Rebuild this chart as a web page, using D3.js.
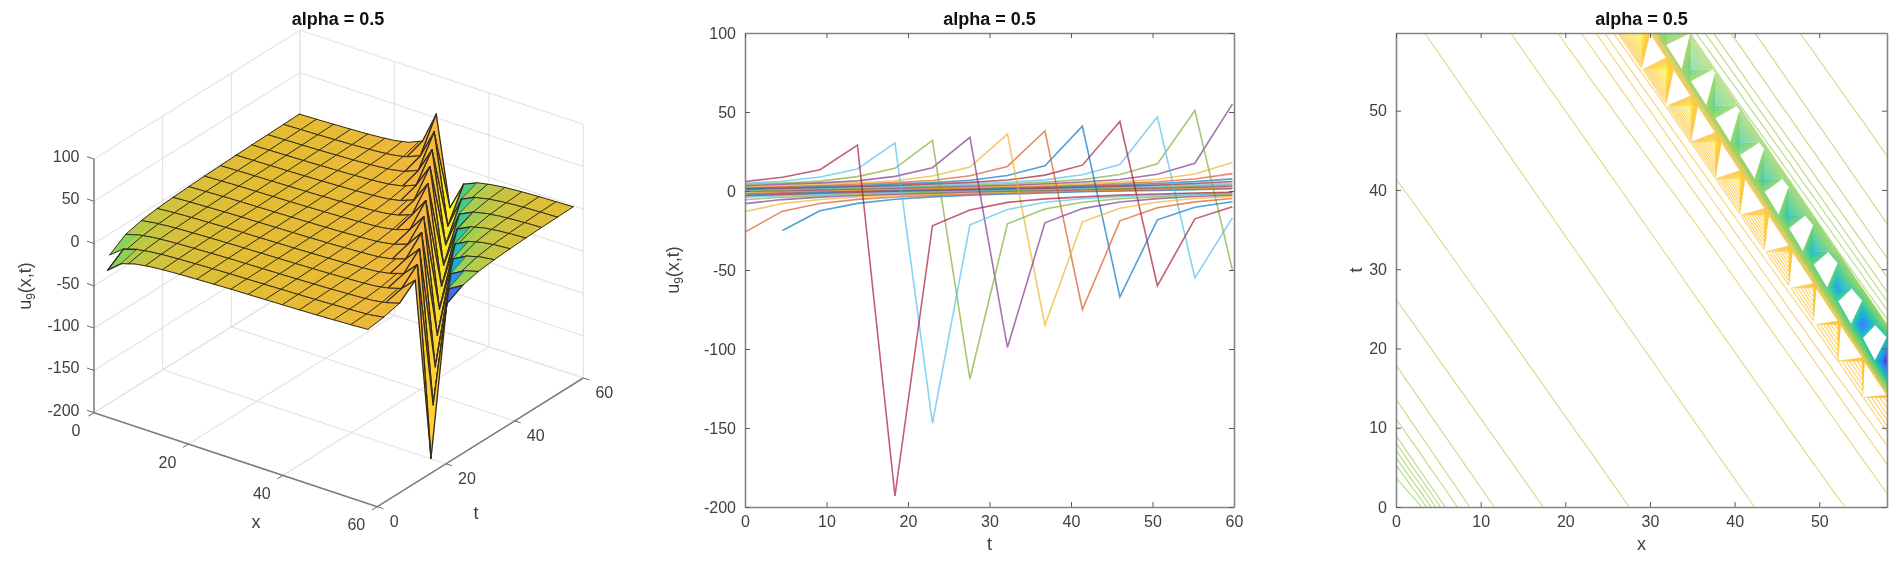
<!DOCTYPE html>
<html>
<head>
<meta charset="utf-8">
<script src="https://cdn.jsdelivr.net/npm/d3@7"></script>
<style>
  html, body { margin: 0; padding: 0; background: #fff; }
  svg { display: block; filter: blur(0.5px); }
  text { font-family: "Liberation Sans", Arial, sans-serif; fill: #404040; font-size: 16px; }
  .title { font-weight: bold; font-size: 18px; fill: #111; text-anchor: middle; }
  .label { font-size: 18px; text-anchor: middle; }
</style>
</head>
<body>
<script>
// Data
//= ================================
var titleText = "alpha = 0.5";
var xValues = [0, 2.9, 5.8, 8.7, 11.6, 14.5, 17.4, 20.3, 23.2, 26.1, 29, 31.9, 34.8, 37.7, 40.6, 43.5, 46.4, 49.3, 52.2, 55.1, 58];
var tValues = [0, 4.6, 9.2, 13.8, 18.4, 23, 27.6, 32.2, 36.8, 41.4, 46, 50.6, 55.2, 59.8];

// one row per t value, one column per x value
var uRows = [
  [null, -26, -13, -8, -5.5, -4, -3, -2.2, -1.5, -0.8, -0.2, 0.2, 0.7, 1.2, 1.7, 2.2, 2.8, 3.4, 4.3, 5, 6],
  [-25, -12.75, -7.94, -5.43, -3.94, -2.95, -2.16, -1.47, -0.77, -0.18, 0.22, 0.72, 1.22, 1.72, 2.22, 2.83, 3.44, 4.34, 5.08, 6.13, 8.7],
  [-12.5, -7.88, -5.36, -3.88, -2.9, -2.12, -1.43, -0.73, -0.16, 0.24, 0.73, 1.23, 1.73, 2.25, 2.86, 3.48, 4.38, 5.15, 6.26, 8.89, 13.5],
  [-7.82, -5.29, -3.82, -2.85, -2.08, -1.4, -0.7, -0.14, 0.25, 0.75, 1.25, 1.75, 2.27, 2.89, 3.51, 4.41, 5.23, 6.39, 9.08, 13.91, 29],
  [-5.22, -3.76, -2.8, -2.04, -1.36, -0.67, -0.12, 0.27, 0.77, 1.26, 1.76, 2.29, 2.92, 3.55, 4.45, 5.31, 6.52, 9.28, 14.32, 30.5, -193],
  [-3.7, -2.75, -2, -1.33, -0.64, -0.1, 0.29, 0.79, 1.28, 1.78, 2.32, 2.95, 3.59, 4.49, 5.38, 6.65, 9.47, 14.73, 32, -147, -22],
  [-2.7, -1.96, -1.29, -0.6, -0.08, 0.31, 0.8, 1.29, 1.79, 2.34, 2.99, 3.63, 4.53, 5.46, 6.78, 9.66, 15.14, 34, -119, -21.38, -12],
  [-1.92, -1.26, -0.57, -0.06, 0.33, 0.82, 1.31, 1.81, 2.36, 3.02, 3.67, 4.57, 5.54, 6.92, 9.85, 15.55, 36, -99, -20.75, -11.71, -7.2],
  [-1.22, -0.54, -0.04, 0.34, 0.84, 1.32, 1.82, 2.38, 3.05, 3.7, 4.6, 5.62, 7.05, 10.04, 15.95, 38, -85, -20.13, -11.43, -7.13, -5],
  [-0.5, -0.02, 0.36, 0.85, 1.34, 1.84, 2.41, 3.08, 3.74, 4.64, 5.69, 7.18, 10.23, 16.36, 41, -75, -19.5, -11.14, -7.07, -4.94, -3.7],
  [0, 0.38, 0.87, 1.35, 1.85, 2.43, 3.11, 3.78, 4.68, 5.77, 7.31, 10.43, 16.77, 44, -67, -18.88, -10.86, -7, -4.88, -3.63, -2.6],
  [0.4, 0.89, 1.37, 1.87, 2.45, 3.14, 3.82, 4.72, 5.85, 7.44, 10.62, 17.18, 47, -60, -18.25, -10.57, -6.93, -4.82, -3.55, -2.57, -1.9],
  [0.9, 1.38, 1.88, 2.48, 3.17, 3.86, 4.76, 5.92, 7.57, 10.81, 17.59, 51, -55, -17.63, -10.29, -6.87, -4.76, -3.48, -2.53, -1.85, -1.3],
  [1.4, 1.9, 2.5, 3.2, 3.9, 4.8, 6, 7.7, 11, 18, 55, -50, -17, -10, -6.8, -4.7, -3.4, -2.5, -1.8, -1.3, -0.8]
];

// the surface mesh is drawn coarser in x than the data
var meshXValues = [0, 3.625, 7.25, 10.875, 14.5, 18.125, 21.75, 25.375, 29, 32.625, 36.25, 39.875, 43.5, 47.125, 50.75, 54.375, 58];
// the missing corner value, for the contour cell next to it
var contourCornerValue = -27.5;

var lineColors = ["#0072BD", "#D95319", "#EDB120", "#7E2F8E", "#77AC30", "#4DBEEE", "#A2142F"];
var uTicks = [-200, -150, -100, -50, 0, 50, 100];
var tTicks2d = [0, 10, 20, 30, 40, 50, 60];
var contourXTicks = [0, 10, 20, 30, 40, 50];
var contourTTicks = [0, 10, 20, 30, 40, 50];
var surfaceTicks = [0, 20, 40, 60];
var contourLevels = d3.range(-190.5, 55, 2.5);

// Colormaps, parula look-alikes
var colorStops = [0, 0.125, 0.25, 0.375, 0.5, 0.677, 0.73, 0.778, 0.83, 0.88, 1];
var surfaceColors = ["#3E26A8", "#4852F4", "#2D87F7", "#12B1D6", "#37C897", "#8CD35A", "#B9C948", "#E3BC32", "#F8B33F", "#FFC83A", "#F9F71A"];
var contourColors = ["#3E26A8", "#4852F4", "#2D87F7", "#12B1D6", "#37C897", "#8CD35A", "#A9C95A", "#CDCF6A", "#F2C848", "#FFC12E", "#F9F71A"];
var surfaceScale = d3.scaleLinear().domain(colorStops).range(surfaceColors).clamp(true);
var contourScale = d3.scaleLinear().domain(colorStops).range(contourColors).clamp(true);
var surfaceColor = d => surfaceScale((d + 193) / 248);
var contourColor = d => contourScale((d + 193) / 248);
var tickFormat = d => String(d);

// Step 1: Set up the svg
//= ================================
var svgWidth = 1902;
var svgHeight = 566;
var boxColor = "#858585";

var svg = d3.select("body")
  .append("svg")
  .attr("width", svgWidth)
  .attr("height", svgHeight);

function addTitle(x) {
  svg.append("text").attr("class", "title").attr("x", x).attr("y", 25).text(titleText);
}

function addULabel(x, y) {
  var label = svg.append("text")
    .attr("class", "label")
    .attr("transform", `translate(${x}, ${y}) rotate(-90)`);
  label.append("tspan").text("u");
  label.append("tspan").attr("dy", 4).style("font-size", "12px").text("9");
  label.append("tspan").attr("dy", -4).text("(x,t)");
}

// box with inward ticks on all four sides, labels on bottom and left
function addBox(group, xScale, yScale, xTicks, yTicks) {
  var x0 = xScale.range()[0], x1 = xScale.range()[1];
  var y0 = yScale.range()[0], y1 = yScale.range()[1];
  var axes = [
    [d3.axisBottom(xScale).tickValues(xTicks).tickFormat(tickFormat), `translate(0, ${y0})`],
    [d3.axisLeft(yScale).tickValues(yTicks).tickFormat(tickFormat), `translate(${x0}, 0)`],
    [d3.axisTop(xScale).tickValues(xTicks).tickFormat(""), `translate(0, ${y1})`],
    [d3.axisRight(yScale).tickValues(yTicks).tickFormat(""), `translate(${x1}, 0)`]
  ];
  axes.forEach(function(a) {
    var g = group.append("g")
      .attr("transform", a[1])
      .call(a[0].tickSizeInner(-5).tickSizeOuter(0).tickPadding(9));
    g.attr("font-family", null).attr("font-size", null);
    g.select(".domain").attr("stroke", boxColor).attr("stroke-width", 1.6);
    g.selectAll(".tick line").attr("stroke", "#5a5a5a").attr("stroke-width", 1);
    g.selectAll(".tick text").attr("fill", null);
  });
}

// Step 2: Surface panel
//= ================================
var surfaceGroup = svg.append("g");

var xToPx = d3.scaleLinear().domain([0, 60]).range([94, 377.3]);
var xToPy = d3.scaleLinear().domain([0, 60]).range([0, 94]);
var tToPx = d3.scaleLinear().domain([0, 60]).range([0, 206]);
var tToPy = d3.scaleLinear().domain([0, 60]).range([0, -128.7]);
var zToPy = d3.scaleLinear().domain([-200, 100]).range([412.7, 159]);

function project(x, t, z) {
  return [xToPx(x) + tToPx(t), zToPy(z) + xToPy(x) + tToPy(t)];
}

var pathLine = d3.line();

function grid3d(a, b) {
  surfaceGroup.append("path")
    .attr("d", pathLine([project(a[0], a[1], a[2]), project(b[0], b[1], b[2])]))
    .attr("fill", "none")
    .attr("stroke", "#e4e4e4")
    .attr("stroke-width", 1.2);
}

surfaceTicks.forEach(function(v) {
  grid3d([v, 0, -200], [v, 60, -200]);
  grid3d([0, v, -200], [60, v, -200]);
  grid3d([v, 60, -200], [v, 60, 100]);
  grid3d([0, v, -200], [0, v, 100]);
});
uTicks.forEach(function(z) {
  grid3d([0, 0, z], [0, 60, z]);
  grid3d([0, 60, z], [60, 60, z]);
});

function meshEdge(a, b, width) {
  surfaceGroup.append("path")
    .attr("d", pathLine([a, b]))
    .attr("fill", "none")
    .attr("stroke", "#332a1a")
    .attr("stroke-width", width || 1)
    .attr("stroke-linecap", "round");
}

// back to front: far corner is small x, large t
d3.range(tValues.length - 2, -1, -1).forEach(function(k) {
  d3.range(0, xValues.length - 1).forEach(function(j) {
    var corners = [[j, k], [j + 1, k], [j + 1, k + 1], [j, k + 1]];
    var cornerValues = corners.map(c => uRows[c[1]][c[0]]);
    if (cornerValues.some(u => u === null)) return;
    var pts = corners.map((c, i) => project(xValues[c[0]], tValues[c[1]], cornerValues[i]));
    var fill = surfaceColor(uRows[k][j]);
    surfaceGroup.append("path")
      .attr("d", pathLine(pts) + "Z")
      .attr("fill", fill)
      .attr("stroke", fill)
      .attr("stroke-width", 0.5);

    // mesh: both constant-t edges, then the constant-x lines inside this cell
    var onSpike = d3.max(cornerValues, Math.abs) > 25 && j > 0;
    meshEdge(pts[0], pts[1], onSpike ? 1.3 : 1);
    meshEdge(pts[3], pts[2], onSpike ? 1.3 : 1);
    if (onSpike) {
      meshEdge(pts[0], pts[3], 1.3);
      meshEdge(pts[1], pts[2], 1.3);
    } else {
      var lowRow = d3.scaleLinear().domain([xValues[j], xValues[j + 1]]).range([uRows[k][j], uRows[k][j + 1]]);
      var highRow = d3.scaleLinear().domain([xValues[j], xValues[j + 1]]).range([uRows[k + 1][j], uRows[k + 1][j + 1]]);
      meshXValues
        .filter(x => x >= xValues[j] && (x < xValues[j + 1] || j === xValues.length - 2))
        .forEach(function(x) {
          meshEdge(project(x, tValues[k], lowRow(x)), project(x, tValues[k + 1], highRow(x)));
        });
    }
    // outline along the missing corner
    if (j > 0 && uRows[k][j - 1] === null) meshEdge(pts[0], pts[3]);
  });
});

function axis3d(a, b) {
  surfaceGroup.append("path")
    .attr("d", pathLine([a, b]))
    .attr("stroke", "#7d7d7d")
    .attr("stroke-width", 1.5);
}
function tick3d(p, dx, dy) {
  surfaceGroup.append("path")
    .attr("d", pathLine([p, [p[0] + dx, p[1] + dy]]))
    .attr("stroke", "#6a6a6a")
    .attr("stroke-width", 1);
}
function text3d(p, dx, dy, str, anchor) {
  surfaceGroup.append("text")
    .attr("x", p[0] + dx)
    .attr("y", p[1] + dy)
    .attr("text-anchor", anchor || "middle")
    .attr("dominant-baseline", "central")
    .text(str);
}

axis3d(project(0, 0, -200), project(0, 0, 100));
axis3d(project(0, 0, -200), project(60, 0, -200));
axis3d(project(60, 0, -200), project(60, 60, -200));

uTicks.forEach(function(z) {
  var p = project(0, 0, z);
  tick3d(p, -7, -2.4);
  text3d(p, -14.5, -2.5, tickFormat(z), "end");
});
surfaceTicks.forEach(function(v) {
  var px = project(v, 0, -200);
  tick3d(px, -5.5, 3.4);
  text3d(px, v === 0 ? -18 : -21, 18, v);
  var pt = project(60, v, -200);
  tick3d(pt, 6, 1.9);
  text3d(pt, v === 0 ? 17 : 21, 14.5, v);
});

svg.append("text").attr("class", "label").attr("x", 256).attr("y", 528).text("x");
svg.append("text").attr("class", "label").attr("x", 476).attr("y", 519).text("t");
addULabel(31, 286);
addTitle(338);

// Step 3: Line panel
//= ================================
var lineGroup = svg.append("g");

var tScale = d3.scaleLinear().domain([0, 60]).range([745, 1234]);
var uScale = d3.scaleLinear().domain([-200, 100]).range([507, 33]);

var uLine = d3.line()
  .defined(d => d.u !== null)
  .x(d => tScale(d.t))
  .y(d => uScale(d.u));

xValues.forEach(function(x, j) {
  lineGroup.append("path")
    .datum(tValues.map((t, k) => ({ t: t, u: uRows[k][j] })))
    .attr("d", uLine)
    .attr("fill", "none")
    .attr("stroke", lineColors[j % lineColors.length])
    .attr("stroke-width", 1.6)
    .attr("stroke-opacity", 0.68);
});

addBox(lineGroup, tScale, uScale, tTicks2d, uTicks);

svg.append("text").attr("class", "label").attr("x", 989.5).attr("y", 550).text("t");
addULabel(679, 270);
addTitle(989.5);

// Step 4: Contour panel
//= ================================
var contourGroup = svg.append("g");

var cxScale = d3.scaleLinear().domain([0, 58]).range([1396, 1887]);
var ctScale = d3.scaleLinear().domain([0, 59.8]).range([507, 33]);

function edgeCross(level, p, q) {
  // p and q are [x, t, u]
  if ((p[2] >= level) === (q[2] >= level)) return null;
  var f = (level - p[2]) / (q[2] - p[2]);
  return [cxScale(p[0] + f * (q[0] - p[0])), ctScale(p[1] + f * (q[1] - p[1]))];
}

// marching squares, saddles decided by the cell mean like MATLAB does
function levelPath(level) {
  var path = d3.path();
  function seg(p, q) {
    path.moveTo(p[0], p[1]);
    path.lineTo(q[0], q[1]);
  }
  function corner(k, j) {
    var u = uRows[k][j];
    return [xValues[j], tValues[k], u === null ? contourCornerValue : u];
  }
  for (var k = 0; k < tValues.length - 1; k++) {
    for (var j = 0; j < xValues.length - 1; j++) {
      var sw = corner(k, j);
      var se = corner(k, j + 1);
      var ne = corner(k + 1, j + 1);
      var nw = corner(k + 1, j);
      var bottom = edgeCross(level, sw, se);
      var right = edgeCross(level, se, ne);
      var top = edgeCross(level, ne, nw);
      var left = edgeCross(level, nw, sw);
      var hits = [bottom, right, top, left].filter(h => h);
      if (hits.length === 2) {
        seg(hits[0], hits[1]);
      } else if (hits.length === 4) {
        var mean = (sw[2] + se[2] + ne[2] + nw[2]) / 4;
        if ((mean >= level) === (sw[2] >= level)) {
          seg(bottom, right);
          seg(top, left);
        } else {
          seg(left, bottom);
          seg(right, top);
        }
      }
    }
  }
  return path.toString();
}

contourLevels.forEach(function(level) {
  contourGroup.append("path")
    .attr("d", levelPath(level))
    .attr("fill", "none")
    .attr("stroke", contourColor(level))
    .attr("stroke-width", 1.2)
    .attr("stroke-opacity", 0.7);
});

addBox(contourGroup, cxScale, ctScale, contourXTicks, contourTTicks);

svg.append("text").attr("class", "label").attr("x", 1641.5).attr("y", 550).text("x");
svg.append("text").attr("class", "label")
  .attr("transform", "translate(1362, 270) rotate(-90)")
  .text("t");
addTitle(1641.5);
</script>
</body>
</html>
